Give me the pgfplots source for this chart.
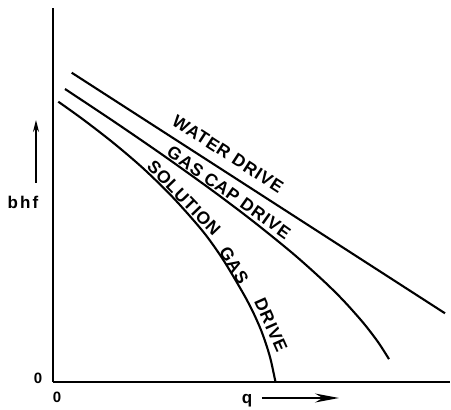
\documentclass[border=0pt]{standalone}
\usepackage{pgfplots}
\pgfplotsset{compat=1.18}
\usepackage{fontspec}
\setmainfont{Liberation Sans}
\usetikzlibrary{arrows.meta}
\newcommand\lbl{\fontsize{17.5}{17.5}\bfseries\addfontfeature{LetterSpace=5}}
\begin{document}
\begin{tikzpicture}
\begin{axis}[
  scale only axis, width=397pt, height=374pt,
  xmin=0, xmax=397, ymin=0, ymax=374,
  axis x line=bottom, axis y line=left,
  axis line style={-, line width=2.8pt},
  xtick=\empty, ytick=\empty,
  clip=false,
  font=\bfseries,
]
% water drive
\addplot[black, line width=2.1pt] coordinates {(18.7,309.3) (392,68.7)};
% gas cap drive
\addplot[black, line width=2.1pt, smooth, tension=0.5] coordinates {
(12,293) (60,261.1) (110,226.8) (160,191.0) (200,160.8) (240,128.4) (270,101.6) (290,81.9) (310,59.5) (325,40.0) (336,22.9)};
% solution gas drive
\addplot[black, line width=2.1pt, smooth, tension=0.5] coordinates {
(5.3,280.3) (30,262.6) (60,239.4) (90,213.8) (120,184.5) (150,150.5) (170,122.5) (190,89) (200,70) (208,52) (214,35) (218,21) (222.5,0)};

\node[rotate=-33, font=\lbl] at (axis cs:175,228) {WATER DRIVE};
\node[rotate=-35.5, font=\lbl] at (axis cs:176,189.5) {GAS CAP DRIVE};
\node[rotate=-46, font=\lbl] at (axis cs:131,184) {SOLUTION};
\node[rotate=-59, font=\lbl] at (axis cs:181,117) {GAS};
\node[rotate=-66, font=\lbl] at (axis cs:218,57) {DRIVE};

\node[font=\fontsize{15}{15}\bfseries] at (axis cs:-15,4) {0};
\node[font=\fontsize{15}{15}\bfseries] at (axis cs:4,-15) {0};
\node[font=\fontsize{17}{17}\bfseries\addfontfeature{LetterSpace=12}] at (axis cs:-30,180) {bhf};
\node[font=\fontsize{17}{17}\bfseries] at (axis cs:194,-19) {q};
\draw[line width=1.4pt, -{Stealth[length=12pt,width=6pt]}] (axis cs:-17,199) -- (axis cs:-17,262);
\draw[line width=1.4pt, -{Stealth[length=24pt,width=9pt]}] (axis cs:209,-16) -- (axis cs:286,-16);
\end{axis}
\pgfresetboundingbox
\path (-53pt,-28pt) rectangle (398pt,382pt);
\end{tikzpicture}
\end{document}
